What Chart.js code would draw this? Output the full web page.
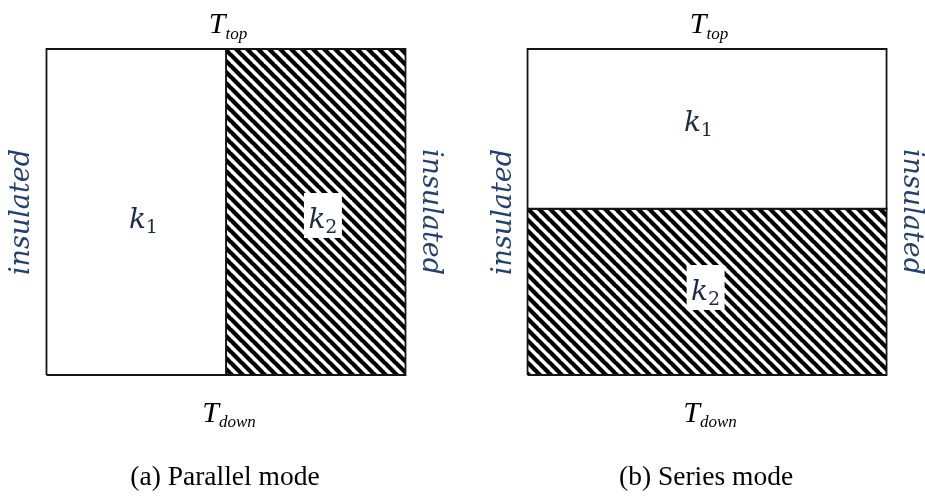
<!DOCTYPE html>
<html>
<head>
<meta charset="utf-8">
<script src="https://cdn.jsdelivr.net/npm/chart.js@4/dist/chart.umd.min.js"></script>
<style>
  html, body { margin: 0; padding: 0; background: #fff; }
  #wrap { width: 925px; height: 500px; }
</style>
</head>
<body>
<div id="wrap"><canvas id="c" width="925" height="500"></canvas></div>
<script>
// ---- data ----
const panelTitles = ['(a) Parallel mode', '(b) Series mode'];
const panelModes = ['parallel', 'series'];
const panelOffsets = [0, 1.34];
const layerNames = ['k1', 'k2'];
const layerHatched = [false, true];
// parallel mode: layers split along x; series mode: layers split along y
const parallelSplitX = [0, 0.5, 1];
const seriesSplitY = [1, 0.51, 0];   // k1 on top, k2 below
const boundaryTopLabel = ['T', 'top'];
const boundaryBottomLabel = ['T', 'down'];
const sideLabel = 'insulated';
// label anchor points (data units, relative to panel)
const labelX = [[0.27, 0.77], [0.476, 0.496]];
const labelY = [[0.451, 0.451], [0.748, 0.23]];

// ---- hatch pattern ----
function makeHatch() {
  const p = 11;
  const c = document.createElement('canvas');
  c.width = p; c.height = p;
  const g = c.getContext('2d');
  g.fillStyle = '#fff';
  g.fillRect(0, 0, p, p);
  g.strokeStyle = '#000';
  g.lineWidth = 4.3;
  for (const off of [-p, 0, p]) {
    g.beginPath();
    g.moveTo(-1, off - 1);
    g.lineTo(p + 1, off + p + 1);
    g.stroke();
  }
  return g.createPattern(c, 'repeat');
}
const hatch = makeHatch();

// ---- build rectangles ----
function rect(x0, x1, y0, y1) {
  return [{x: x0, y: y0}, {x: x1, y: y0}, {x: x1, y: y1}, {x: x0, y: y1}, {x: x0, y: y0}];
}
const datasets = [];
panelModes.forEach((mode, pi) => {
  const ox = panelOffsets[pi];
  layerNames.forEach((name, li) => {
    let pts;
    if (mode === 'parallel') {
      pts = rect(ox + parallelSplitX[li], ox + parallelSplitX[li + 1], 0, 1);
    } else {
      pts = rect(ox + 0, ox + 1, seriesSplitY[li + 1], seriesSplitY[li]);
    }
    datasets.push({
      label: name,
      data: pts,
      showLine: true,
      fill: 'shape',
      backgroundColor: layerHatched[li] ? hatch : '#ffffff',
      borderColor: '#141414',
      borderWidth: 1.8,
      pointRadius: 0,
      tension: 0
    });
  });
});

// ---- text plugin ----
function drawSub(ctx, cx, y, main, sub, mainFont, subFont, subDy, color) {
  ctx.save();
  ctx.fillStyle = color;
  ctx.textBaseline = 'alphabetic';
  ctx.textAlign = 'left';
  ctx.font = mainFont;
  const w1 = ctx.measureText(main).width;
  ctx.font = subFont;
  const w2 = ctx.measureText(sub).width;
  const x0 = cx - (w1 + w2) / 2;
  ctx.font = mainFont;
  ctx.fillText(main, x0, y);
  ctx.font = subFont;
  ctx.fillText(sub, x0 + w1, y + subDy);
  ctx.restore();
  return {x0: x0, w: w1 + w2};
}

const textPlugin = {
  id: 'diagramText',
  afterDatasetsDraw(chart) {
    const ctx = chart.ctx;
    const xs = chart.scales.x, ys = chart.scales.y;
    panelModes.forEach((mode, pi) => {
      const ox = panelOffsets[pi];
      const cx = xs.getPixelForValue(ox + 0.5);
      // boundary labels
      drawSub(ctx, cx + 2, ys.getPixelForValue(1.049), boundaryTopLabel[0], boundaryTopLabel[1],
        'italic 30px "Liberation Serif"', 'italic 17px "Liberation Serif"', 6, '#000');
      drawSub(ctx, cx + 3, ys.getPixelForValue(-0.144), boundaryBottomLabel[0], boundaryBottomLabel[1],
        'italic 30px "Liberation Serif"', 'italic 17px "Liberation Serif"', 5, '#000');
      // caption
      ctx.save();
      ctx.fillStyle = '#000';
      ctx.font = '27.5px "Liberation Serif"';
      ctx.textAlign = 'center';
      ctx.textBaseline = 'alphabetic';
      ctx.fillText(panelTitles[pi], cx - 1, ys.getPixelForValue(-0.337));
      ctx.restore();
      // side labels
      const yc = ys.getPixelForValue(0.5);
      ctx.save();
      ctx.fillStyle = '#23416e';
      ctx.font = 'italic 27px "DejaVu Serif"';
      ctx.textAlign = 'center';
      ctx.textBaseline = 'middle';
      ctx.translate(xs.getPixelForValue(ox - 0.067), yc);
      ctx.rotate(-Math.PI / 2);
      ctx.fillText(sideLabel, 0, 0);
      ctx.restore();
      ctx.save();
      ctx.fillStyle = '#23416e';
      ctx.font = 'italic 27px "DejaVu Serif"';
      ctx.textAlign = 'center';
      ctx.textBaseline = 'middle';
      ctx.translate(xs.getPixelForValue(ox + 1.068), yc);
      ctx.rotate(Math.PI / 2);
      ctx.fillText(sideLabel, 0, 0);
      ctx.restore();
      // layer labels
      layerNames.forEach((name, li) => {
        const px = xs.getPixelForValue(ox + labelX[pi][li]);
        const py = ys.getPixelForValue(labelY[pi][li]);
        if (layerHatched[li]) {
          ctx.save();
          ctx.fillStyle = '#fff';
          ctx.fillRect(px - 19, py - 35, 38, 45);
          ctx.restore();
        }
        drawSub(ctx, px, py, name.charAt(0), name.slice(1),
          'italic 28px "DejaVu Serif"', '19px "DejaVu Serif"', 5, '#1b2a45');
      });
    });
  }
};

new Chart(document.getElementById('c'), {
  type: 'scatter',
  data: { datasets: datasets },
  options: {
    responsive: false,
    animation: false,
    events: [],
    layout: { padding: 0 },
    plugins: { legend: { display: false }, tooltip: { enabled: false }, title: { display: false } },
    scales: {
      x: { type: 'linear', display: false, min: -0.1295, max: 2.4471 },
      y: { type: 'linear', display: false, min: -0.3834, max: 1.1503 }
    }
  },
  plugins: [textPlugin]
});
</script>
</body>
</html>
